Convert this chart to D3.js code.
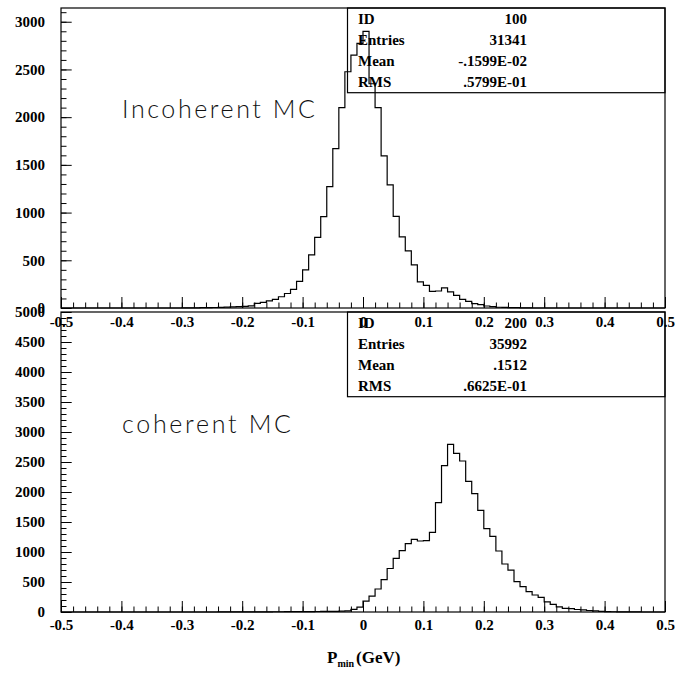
<!DOCTYPE html>
<html>
<head>
<meta charset="utf-8">
<script src="https://cdnjs.cloudflare.com/ajax/libs/d3/7.8.5/d3.min.js"></script>
<style>
  body { margin: 0; background: #fff; }
  svg { display: block; }
  .tick text { font-family: "Liberation Serif", "Times New Roman", serif; font-weight: bold; font-size: 15px; fill: #000; }
  .stat { font-family: "Liberation Serif", "Times New Roman", serif; font-weight: bold; font-size: 15px; }
  .label { font-family: "Lato", "Open Sans", sans-serif; font-weight: 300; font-size: 25px; fill: #111; }
</style>
</head>
<body>
<div id="chart"></div>
<script>
// histogram range, 100 bins
var xLow = -0.5, xHigh = 0.5;

// counts per bin (bin 0 = [-0.5,-0.49])
var incoherentCounts = [
  0, 0, 0, 0, 0, 0, 0, 0, 0, 0,
  0, 0, 0, 0, 0, 0, 0, 0, 0, 0,
  1, 2, 2, 3, 3, 5, 7, 9, 12, 15,
  18, 22, 48, 60, 75, 90, 118, 152, 195, 280,
  399, 556, 741, 958, 1273, 1670, 2100, 2476, 2651, 2773,
  2900, 2350, 2100, 1595, 1290, 960, 745, 598, 452, 273,
  238, 175, 178, 210, 168, 133, 91, 70, 46, 36,
  21, 15, 8, 7, 4, 3, 2, 1, 0, 0,
  0, 0, 0, 0, 0, 0, 0, 0, 0, 0,
  0, 0, 0, 0, 0, 0, 0, 0, 0, 0
];

var coherentCounts = [
  0, 0, 0, 0, 0, 0, 0, 0, 0, 0,
  0, 0, 0, 0, 0, 0, 0, 0, 0, 0,
  0, 0, 0, 0, 0, 0, 1, 1, 1, 1,
  2, 2, 3, 3, 3, 4, 4, 5, 5, 6,
  6, 7, 8, 9, 10, 12, 14, 20, 45, 80,
  180, 265, 383, 540, 725, 894, 1022, 1139, 1211, 1183,
  1189, 1328, 1822, 2439, 2794, 2644, 2517, 2178, 1972, 1694,
  1389, 1261, 1017, 800, 697, 506, 422, 339, 283, 244,
  168, 128, 85, 62, 55, 42, 35, 25, 18, 12,
  6, 4, 2, 2, 1, 1, 0, 0, 0, 0
];

var xTicks = [-0.5, -0.4, -0.3, -0.2, -0.1, 0, 0.1, 0.2, 0.3, 0.4, 0.5];
var xTickLabels = ["-0.5", "-0.4", "-0.3", "-0.2", "-0.1", "0", "0.1", "0.2", "0.3", "0.4", "0.5"];
var yTicksTop = [0, 500, 1000, 1500, 2000, 2500, 3000];
var yTicksBottom = [0, 500, 1000, 1500, 2000, 2500, 3000, 3500, 4000, 4500, 5000];

var statsTop = [["ID", "100"], ["Entries", "31341"], ["Mean", "-.1599E-02"], ["RMS", ".5799E-01"]];
var statsBottom = [["ID", "200"], ["Entries", "35992"], ["Mean", ".1512"], ["RMS", ".6625E-01"]];

var width = 675, height = 677;

var svg = d3.select("#chart")
  .append("svg")
  .attr("width", width)
  .attr("height", height);

var x = d3.scaleLinear().domain([xLow, xHigh]).range([61, 665]);

function drawPanel(opts) {
  var y = d3.scaleLinear().domain([0, opts.yMax]).range([opts.bottom, opts.top]);
  var g = svg.append("g");
  var binWidth = (xHigh - xLow) / opts.counts.length;

  // frame
  g.append("rect")
    .attr("x", x(xLow))
    .attr("y", opts.top)
    .attr("width", x(xHigh) - x(xLow))
    .attr("height", opts.bottom - opts.top)
    .attr("fill", "none")
    .attr("stroke", "#000")
    .attr("stroke-width", 1.2);

  // minor ticks x
  var xMinor = g.append("g")
    .attr("transform", "translate(0," + opts.bottom + ")")
    .call(d3.axisBottom(x).tickValues(x.ticks(50)).tickSizeInner(-5.5).tickSizeOuter(0).tickFormat(""));
  xMinor.select(".domain").remove();

  // major ticks x
  var xMajor = g.append("g")
    .attr("transform", "translate(0," + opts.bottom + ")")
    .call(d3.axisBottom(x).tickValues(xTicks).tickSizeInner(-11).tickSizeOuter(0).tickPadding(opts.xPad)
      .tickFormat(function(d, i) { return xTickLabels[i]; }));
  xMajor.select(".domain").remove();

  // minor ticks y
  var yMinor = g.append("g")
    .attr("transform", "translate(" + x(xLow) + ",0)")
    .call(d3.axisLeft(y).tickValues(d3.range(0, opts.yMax, 100)).tickSizeInner(-5.5).tickSizeOuter(0).tickFormat(""));
  yMinor.select(".domain").remove();

  var yMajor = g.append("g")
    .attr("transform", "translate(" + x(xLow) + ",0)")
    .call(d3.axisLeft(y).tickValues(opts.yTicks).tickSizeInner(-10.7).tickSizeOuter(0).tickPadding(16)
      .tickFormat(d3.format("d")));
  yMajor.select(".domain").remove();

  g.selectAll(".tick line").attr("stroke", "#000");

  // histogram outline as steps
  var pts = [[x(xLow), y(0)]];
  opts.counts.forEach(function(c, i) {
    var lo = xLow + i * binWidth, hi = lo + binWidth;
    pts.push([x(lo), y(c)]);
    pts.push([x(hi), y(c)]);
  });
  pts.push([x(xHigh), y(0)]);

  g.append("path")
    .attr("d", d3.line()(pts))
    .attr("fill", "none")
    .attr("stroke", "#000")
    .attr("stroke-width", 1.2);

  // stats box
  g.append("rect")
    .attr("x", 347.5)
    .attr("y", opts.top)
    .attr("width", x(xHigh) - 347.5)
    .attr("height", 84.7)
    .attr("fill", "none")
    .attr("stroke", "#000")
    .attr("stroke-width", 1.2);

  var rows = g.selectAll(".statrow")
    .data(opts.stats)
    .enter()
    .append("g")
    .attr("class", "statrow")
    .attr("transform", function(d, i) { return "translate(0," + (opts.top + 16 + i * 21) + ")"; });

  rows.append("text")
    .attr("class", "stat")
    .attr("x", 358)
    .text(function(d) { return d[0]; });

  rows.append("text")
    .attr("class", "stat")
    .attr("x", 527)
    .attr("text-anchor", "end")
    .text(function(d) { return d[1]; });

  // sample label
  g.append("text")
    .attr("class", "label")
    .attr("x", 122)
    .attr("y", opts.labelY)
    .attr("textLength", opts.labelWidth)
    .attr("lengthAdjust", "spacing")
    .text(opts.label);
}

drawPanel({
  counts: incoherentCounts,
  yMax: 3144,
  top: 8,
  bottom: 308,
  yTicks: yTicksTop,
  xPad: 8.5,
  stats: statsTop,
  label: "Incoherent MC",
  labelY: 118,
  labelWidth: 193
});

drawPanel({
  counts: coherentCounts,
  yMax: 5000,
  top: 312,
  bottom: 612,
  yTicks: yTicksBottom,
  xPad: 7.5,
  stats: statsBottom,
  label: "coherent MC",
  labelY: 433,
  labelWidth: 169
});

// x axis title
var title = svg.append("text")
  .attr("x", 327)
  .attr("y", 663)
  .attr("font-family", "Liberation Serif, Times New Roman, serif")
  .attr("font-weight", "bold")
  .attr("font-size", 17);
title.append("tspan").text("P");
title.append("tspan").attr("font-size", 10).attr("dy", 4).text("min");
title.append("tspan").attr("dy", -4).attr("dx", 2).text("(GeV)");
</script>
</body>
</html>
